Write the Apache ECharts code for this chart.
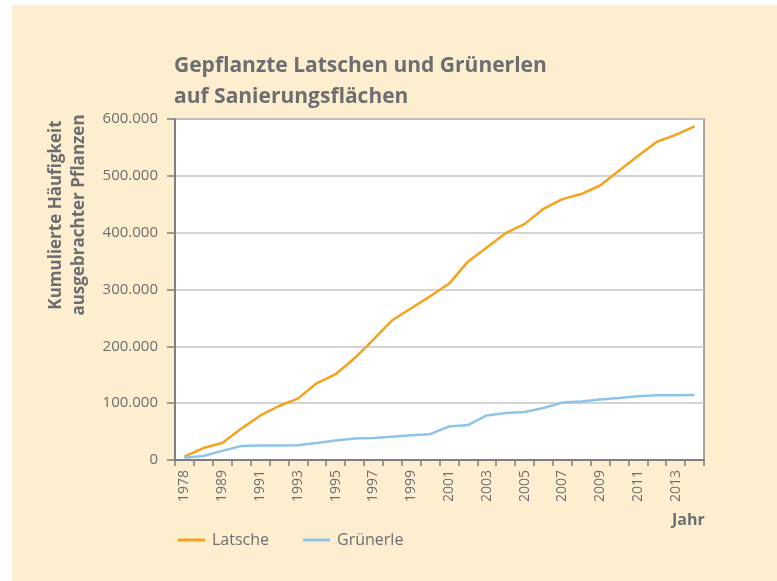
<!DOCTYPE html>
<html>
<head>
<meta charset="utf-8">
<script src="https://cdn.jsdelivr.net/npm/echarts@6/dist/echarts.min.js"></script>
<style>
  html, body { margin: 0; padding: 0; background: #ffffff; }
  #chart { position: absolute; left: 12px; top: 5px; width: 765px; height: 576px; background: #fdeecf; }
</style>
</head>
<body>
<div id="chart"></div>
<script>
// x categories (first two years are 1978 and 1988, then yearly)
const years = ['1978', '1988', '1989', '1990', '1991', '1992', '1993', '1994', '1995', '1996',
  '1997', '1998', '1999', '2000', '2001', '2002', '2003', '2004', '2005', '2006',
  '2007', '2008', '2009', '2010', '2011', '2012', '2013', '2014']

const latsche = [6000, 21000, 30000, 55000, 78000, 95000, 108000, 135000, 151000, 179000,
  212000, 246000, 267000, 288000, 310000, 349000, 374000, 399000, 415000, 442000,
  459000, 468000, 483000, 509000, 535000, 560000, 572000, 587000]

const gruenerle = [4000, 7000, 16000, 24500, 25500, 25500, 26000, 30000, 34500, 38000,
  38500, 41000, 43500, 45500, 59000, 61500, 78500, 82500, 84500, 91500,
  101000, 103000, 106500, 109000, 112000, 114000, 114000, 114500]

const textColor = '#6d6e71'
const font = '"Open Sans", "Noto Sans", sans-serif'

const fmt = v => String(v).replace(/\B(?=(\d{3})+(?!\d))/g, '.')

const chart = echarts.init(document.getElementById('chart'))
chart.setOption({
  animation: false,
  textStyle: { fontFamily: font },
  title: {
    text: 'Gepflanzte Latschen und Grünerlen\nauf Sanierungsflächen',
    left: 157,
    top: 41,
    textStyle: { fontSize: 21, fontWeight: 'bold', color: textColor, lineHeight: 31, fontFamily: font }
  },
  grid: {
    left: 163, right: 73, top: 114, bottom: 121,
    show: true, backgroundColor: '#ffffff', borderColor: '#8a8a8a', borderWidth: 1.5
  },
  legend: {
    left: 161,
    top: 522,
    icon: 'rect',
    itemWidth: 27,
    itemHeight: 3,
    itemGap: 34,
    textStyle: { fontSize: 16, color: textColor, fontFamily: font, padding: [0, 0, 0, 2] },
    data: ['Latsche', 'Grünerle']
  },
  xAxis: {
    type: 'category',
    data: years,
    boundaryGap: true,
    axisLine: { lineStyle: { color: '#7f7f7f', width: 2 } },
    axisTick: { show: true, interval: 0, length: 6, lineStyle: { color: '#7f7f7f', width: 1.5 } },
    axisLabel: { interval: 1, rotate: 90, margin: 10, fontSize: 14, color: textColor, fontFamily: font }
  },
  yAxis: {
    type: 'value',
    min: 0,
    max: 600000,
    interval: 100000,
    axisLine: { show: true, lineStyle: { color: '#7f7f7f', width: 2 } },
    axisTick: { show: true, length: 8, lineStyle: { color: '#7f7f7f', width: 1.5 } },
    axisLabel: { margin: 17, fontSize: 15, color: textColor, fontFamily: font, formatter: fmt },
    splitLine: { lineStyle: { color: '#c4c4c4', width: 1.5 } }
  },
  graphic: [
    {
      type: 'text',
      x: 33, y: 210,
      rotation: Math.PI / 2,
      style: {
        text: 'Kumulierte Häufigkeit\nausgebrachter Pflanzen',
        fill: textColor,
        font: 'bold 17px ' + font,
        lineHeight: 23,
        align: 'center',
        verticalAlign: 'top'
      }
    },
    {
      type: 'text',
      left: 660, top: 507,
      style: { text: 'Jahr', fill: textColor, font: 'bold 16px ' + font }
    }
  ],
  series: [
    {
      name: 'Latsche', type: 'line', data: latsche,
      showSymbol: false, symbol: 'none',
      lineStyle: { color: '#f5a31c', width: 2.5 },
      itemStyle: { color: '#f5a31c' }
    },
    {
      name: 'Grünerle', type: 'line', data: gruenerle,
      showSymbol: false, symbol: 'none',
      lineStyle: { color: '#8ec4ea', width: 2.5 },
      itemStyle: { color: '#8ec4ea' }
    }
  ]
})
</script>
</body>
</html>
